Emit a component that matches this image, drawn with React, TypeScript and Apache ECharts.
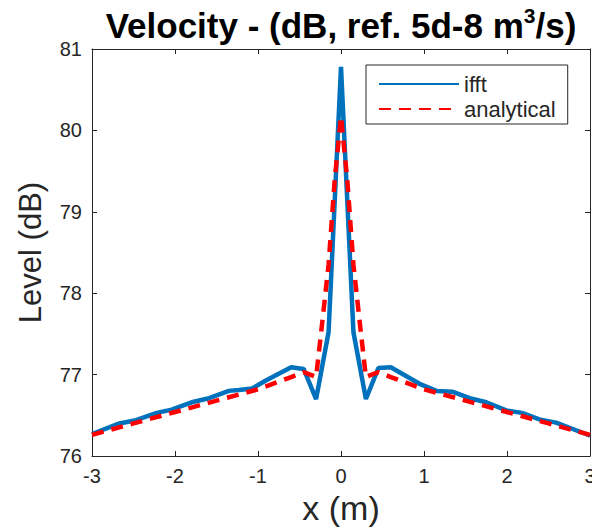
import React, { useEffect, useRef } from "react";
import * as echarts from "echarts";

const ifftX = [-3.0, -2.67, -2.47, -2.22, -2.04, -1.8, -1.59, -1.35, -1.23, -1.07, -0.9, -0.75, -0.6, -0.45, -0.3, -0.15, 0, 0.15, 0.3, 0.45, 0.6, 0.94, 1.15, 1.34, 1.55, 1.75, 1.99, 2.18, 2.39, 2.59, 2.95, 3.0];
const ifftY = [76.27, 76.4, 76.44, 76.53, 76.57, 76.66, 76.71, 76.8, 76.81, 76.83, 76.93, 77.01, 77.09, 77.07, 76.7, 77.52, 80.78, 77.52, 76.7, 77.08, 77.09, 76.89, 76.8, 76.79, 76.71, 76.66, 76.56, 76.53, 76.45, 76.41, 76.27, 76.25];

const anaX = [-3, -2.5, -2, -1.5, -1, -0.6, -0.45, -0.3, -0.225, -0.15, -0.075, 0, 0.075, 0.15, 0.225, 0.3, 0.45, 0.6, 1, 1.5, 2, 2.5, 3];
const anaY = [76.26, 76.4, 76.54, 76.68, 76.82, 76.97, 77.03, 76.97, 77.65, 78.35, 79.4, 80.17, 79.4, 78.35, 77.65, 76.97, 77.03, 76.97, 76.82, 76.68, 76.54, 76.4, 76.26];

const seriesNames = ["ifft", "analytical"];
const titleParts = ["Velocity - (dB, ref. 5d-8 m", "3", "/s)"];
const xName = "x (m)";
const yName = "Level (dB)";

const FONT = "'Liberation Sans', Arial, Helvetica, sans-serif";
const AX = "#262626";

export default function App() {
  const ref = useRef<HTMLDivElement>(null);
  useEffect(() => {
    const chart = echarts.init(ref.current!, null, { renderer: "svg" });
    const pairs = (xs: number[], ys: number[]) => xs.map((x, i) => [x, ys[i]]);
    const axisCommon = {
      axisLine: { show: true, onZero: false, lineStyle: { color: AX, width: 1 } },
      axisTick: { show: true, inside: true, length: 5, lineStyle: { color: AX } },
      splitLine: { show: false },
    };
    chart.setOption({
      animation: false,
      backgroundColor: "#ffffff",
      textStyle: { fontFamily: FONT },
      grid: { left: 92, right: 2, top: 49, bottom: 74, outerBoundsMode: "none", containLabel: false },
      graphic: [
        {
          type: "text",
          x: 341,
          y: 24,
          style: {
            text: `{t|${titleParts[0]}}{s|${titleParts[1]}}{t|${titleParts[2]}}`,
            textAlign: "center",
            textVerticalAlign: "middle",
            rich: {
              t: { fontSize: 35, fontWeight: "bold", fontFamily: FONT, fill: "#000", lineHeight: 38, verticalAlign: "bottom" },
              s: { fontSize: 21, fontWeight: "bold", fontFamily: FONT, fill: "#000", lineHeight: 38, verticalAlign: "top" },
            },
          },
        },
      ],
      legend: {
        data: seriesNames,
        orient: "vertical",
        left: 366,
        top: 65,
        itemWidth: 80,
        itemHeight: 14,
        itemGap: 3,
        itemTextGap: 5,
        itemStyle: { opacity: 0 },
        textStyle: { fontSize: 22, lineHeight: 22, color: AX, fontFamily: FONT },
        borderColor: AX,
        borderWidth: 1,
        padding: [8, 12, 4, 12],
        backgroundColor: "#fff",
      },
      xAxis: [
        {
          type: "value",
          min: -3,
          max: 3,
          interval: 1,
          position: "bottom",
          ...axisCommon,
          axisLabel: { fontSize: 20, color: AX, margin: 10, fontFamily: FONT },
          name: xName,
          nameLocation: "middle",
          nameGap: 31,
          nameTextStyle: { fontSize: 34, color: AX, fontFamily: FONT },
        },
        {
          type: "value",
          min: -3,
          max: 3,
          interval: 1,
          position: "top",
          ...axisCommon,
          axisLabel: { show: false },
        },
      ],
      yAxis: [
        {
          type: "value",
          min: 76,
          max: 81,
          interval: 1,
          position: "left",
          ...axisCommon,
          axisLabel: { fontSize: 20, color: AX, margin: 10, fontFamily: FONT },
          name: yName,
          nameLocation: "middle",
          nameGap: 46,
          nameRotate: 90,
          nameTextStyle: { fontSize: 31, color: AX, fontFamily: FONT },
        },
        {
          type: "value",
          min: 76,
          max: 81,
          interval: 1,
          position: "right",
          ...axisCommon,
          axisLabel: { show: false },
        },
      ],
      series: [
        {
          name: seriesNames[0],
          type: "line",
          data: pairs(ifftX, ifftY),
          symbol: "none",
          showSymbol: false,
          itemStyle: { color: "#0072BD" },
          lineStyle: { color: "#0072BD", width: 4.5 },
          z: 2,
        },
        {
          name: seriesNames[1],
          type: "line",
          data: pairs(anaX, anaY),
          symbol: "none",
          showSymbol: false,
          itemStyle: { color: "#FF0000" },
          lineStyle: { color: "#FF0000", width: 4.5, type: [12, 8] },
          z: 3,
        },
      ],
    });
    return () => chart.dispose();
  }, []);
  return <div ref={ref} style={{ position: "fixed", left: 0, top: 0, width: 592, height: 530 }} />;
}
